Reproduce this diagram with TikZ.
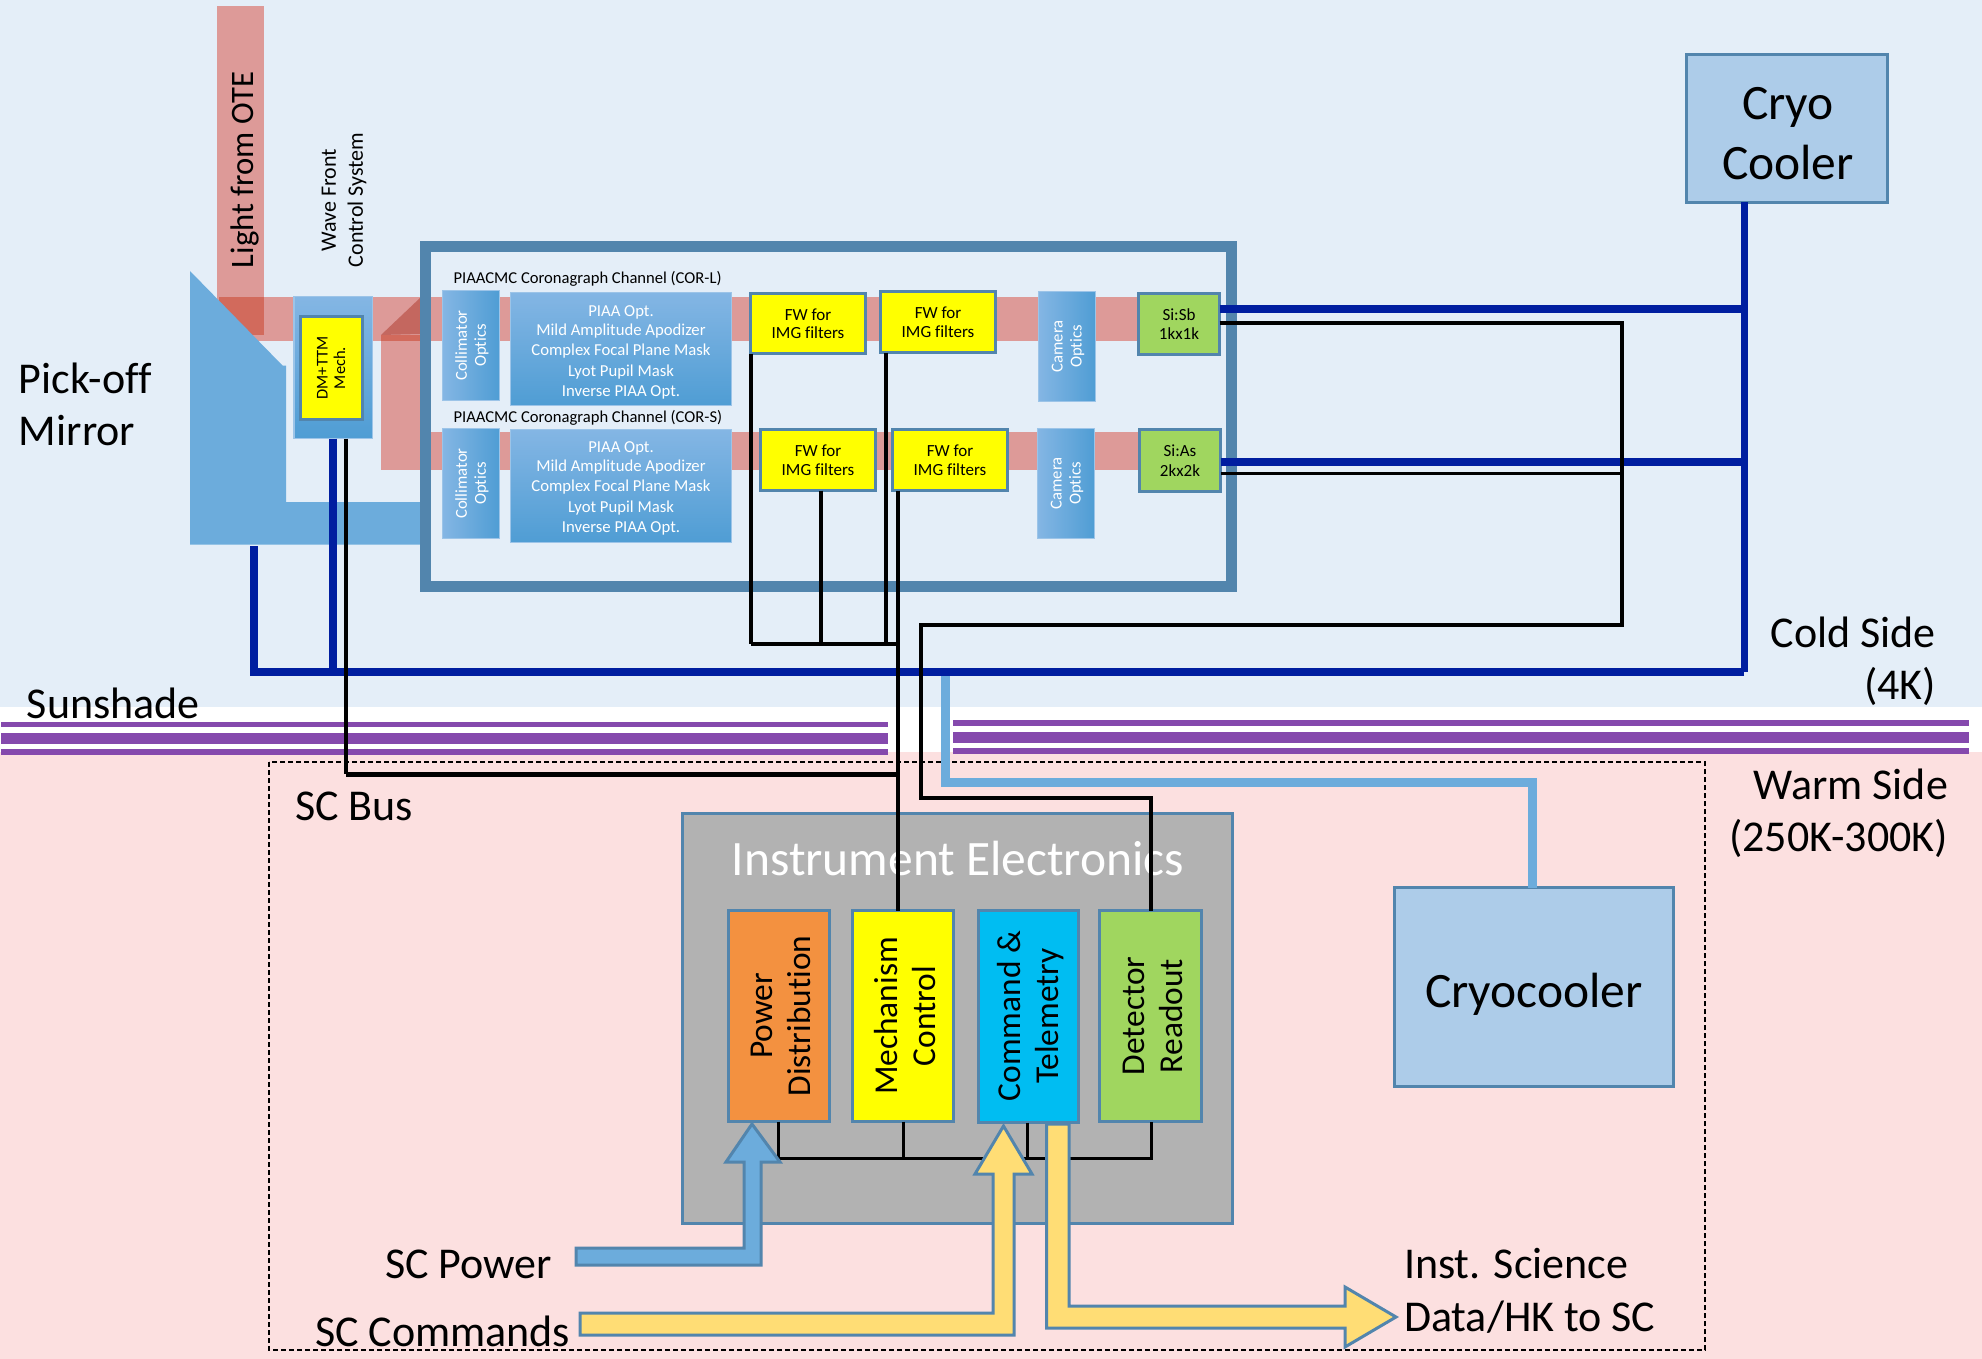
\documentclass[tikz,border=0pt]{standalone}
\usepackage{fontspec}
\setmainfont[Ligatures=NoCommon]{Carlito}
\usetikzlibrary{calc}
\definecolor{bgcold}{HTML}{E4EEF8}
\definecolor{bgwarm}{HTML}{FCE0E0}
\definecolor{beam}{HTML}{DD9A98}
\definecolor{beamdark}{HTML}{D26A5C}
\definecolor{fold}{HTML}{C4675F}
\definecolor{purp}{HTML}{8549AD}
\definecolor{edge}{HTML}{5285AD}
\definecolor{ltblue}{HTML}{6CACDC}
\definecolor{paleblue}{HTML}{ADCCE9}
\definecolor{optA}{HTML}{84B6E4}
\definecolor{optB}{HTML}{4F9DD4}
\definecolor{optedge}{HTML}{9CC4E8}
\definecolor{navy}{HTML}{001EA0}
\definecolor{ygold}{HTML}{FFDD75}
\definecolor{orng}{HTML}{F39140}
\definecolor{cyanb}{HTML}{00BDF2}
\definecolor{grn}{HTML}{A0D65F}
\definecolor{grey}{HTML}{B2B2B2}
\definecolor{ybox}{RGB}{255,255,0}
\newcommand\fsz[1]{\fontsize{#1}{#1}\selectfont}
\newcommand\bx[6]{% name x1 y1 x2 y2 style
  \pgfmathsetmacro\bxw{#4-#2-1}\pgfmathsetmacro\bxh{#5-#3-1}
  \pgfmathsetmacro\bxx{(#2+#4)/2}\pgfmathsetmacro\bxy{(#3+#5)/2}
  \node[#6,minimum width=\bxw pt,minimum height=\bxh pt] (#1) at (\bxx,\bxy) {};}
\tikzset{x=1pt,y=-1pt,
  every node/.style={inner sep=0pt,outer sep=0pt},
  framed/.style={draw=edge,line width=3pt},
  optv/.style={draw=optedge,line width=1.5pt,top color=optA,bottom color=optB},
  opth/.style={draw=optedge,line width=1.5pt,left color=optA,right color=optB},
  yel/.style={framed,fill=ybox},
  grnbox/.style={framed,fill=grn},
  palebox/.style={framed,fill=paleblue},
  optictext/.style={text=white,align=center,font=\fsz{16.7}},
  piaatext/.style={text=white,align=center,font=\fontsize{16.7}{19.3}\selectfont},
  smalltext/.style={align=center,font=\fsz{17}},
  big/.style={font=\fsz{44}},
  elec/.style={rotate=90,align=center,font=\fsz{33.4}},
  blk/.style={draw=black,line width=4pt,line join=miter},
  thn/.style={draw=black,line width=3.5pt},
  nvy/.style={draw=navy,line width=8pt,line join=miter},
  blockarrow/.style={draw=edge,line width=3pt,line join=miter}
}
\newcommand\piaalines{PIAA Opt.\\ Mild Amplitude Apodizer\\ Complex Focal Plane Mask\\[2.5pt] Lyot Pupil Mask\\[0.5pt] Inverse PIAA Opt.}
\begin{document}
\begin{tikzpicture}
\useasboundingbox (0,0) rectangle (1982,1359);
% zones
\fill[white] (0,0) rectangle (1982,1359);
\fill[bgcold] (0,0) rectangle (1982,707);
\fill[bgwarm] (0,752) rectangle (1982,1359);
% sunshade
\fill[purp] (1,722) rectangle (888,727);
\fill[purp] (1,733) rectangle (888,744);
\fill[purp] (1,749) rectangle (888,755);
\fill[purp] (953,720) rectangle (1969,726);
\fill[purp] (953,732) rectangle (1969,743);
\fill[purp] (953,748) rectangle (1969,754);
% bus frame
\draw[dashed,line width=1.3pt,dash pattern=on 5pt off 3pt] (269,762) rectangle (1705,1350);
% beams
\fill[beam] (217,6) rectangle (264,335);
\fill[beam] (219,297) rectangle (1139,341);
\fill[beam] (381,335) rectangle (420,470);
\fill[beam] (420,432) rectangle (1139,470);
\fill[beamdark] (219,297) rectangle (264,335);
\fill[beamdark] (381,335) rectangle (420,341);
\fill[fold] (381,335) -- (420,298) -- (420,334) -- cycle;
% pick-off mirror
\fill[ltblue] (190,271) -- (282.5,365.5) -- (286,365.5) -- (286,502) -- (420,502) -- (420,544.5) -- (190,544.5) -- cycle;
% channel frame
\node[draw=edge,line width=11pt,minimum width=806pt,minimum height=340pt] (chan) at (828.5,416.5) {};
% wave front control
\bx{wfc}{293.5}{296}{373}{439}{optv}
\bx{dm}{300}{316}{362.5}{420}{framed,fill=ybox}
\node[rotate=90,align=center,font=\fsz{16.5}] (dmT) at (dm) {DM+TTM\\[1pt]Mech.};
% optics
\bx{colA}{442}{290}{500}{401}{opth}
\bx{colB}{442}{428}{500}{539}{opth}
\bx{piaaA}{510}{292}{732}{406}{optv}
\bx{piaaB}{510}{429}{732}{543}{optv}
\node[rotate=90,optictext] (colAT) at ($(colA)+(1,0)$) {Collimator\\[2.3pt]Optics};
\node[rotate=90,optictext] (colBT) at ($(colB)+(1,0)$) {Collimator\\[2.3pt]Optics};
\node[piaatext] (piaaAT) at ($(piaaA)+(0,3.5)$) {\piaalines};
\node[piaatext] (piaaBT) at ($(piaaB)+(0,2.5)$) {\piaalines};
\node[anchor=west,font=\fsz{16.6}] (chL) at (453.5,279) {PIAACMC Coronagraph Channel (COR-L)};
\node[anchor=west,font=\fsz{16.6}] (chS) at (453.5,418) {PIAACMC Coronagraph Channel (COR-S)};
% filters
\bx{fwa}{750}{293}{866}{354}{yel}
\bx{fwb}{880}{291}{996}{353}{yel}
\bx{fwc}{760}{429}{876}{491}{yel}
\bx{fwd}{892}{429}{1008}{491}{yel}
\node[smalltext] (fwaT) at (fwa) {FW for\\[1.5pt]IMG filters};
\node[smalltext] (fwbT) at (fwb) {FW for\\[1.5pt]IMG filters};
\node[smalltext] (fwcT) at (fwc) {FW for\\[1.5pt]IMG filters};
\node[smalltext] (fwdT) at (fwd) {FW for\\[1.5pt]IMG filters};
% cameras
\bx{camA}{1038}{291}{1096}{402}{opth}
\bx{camB}{1037}{428}{1095}{539}{opth}
\node[rotate=90,optictext] (camAT) at ($(camA)+(1,0)$) {Camera\\[2.3pt]Optics};
\node[rotate=90,optictext] (camBT) at ($(camB)+(1,0)$) {Camera\\[2.3pt]Optics};
% detectors
\bx{sisb}{1138}{293}{1220}{355}{grnbox}
\bx{sias}{1139}{429}{1221}{492}{grnbox}
\node[smalltext] (sisbT) at (sisb) {Si:Sb\\[2.5pt]1kx1k};
\node[smalltext] (siasT) at (sias) {Si:As\\[2.5pt]2kx2k};
% coolers
\bx{cryo}{1686}{54}{1888}{203}{palebox}
\node[align=center,font=\fsz{49.5}] (cryoT) at ($(cryo)+(1,5.5)$) {Cryo\\[10.5pt]Cooler};
\bx{cooler}{1394}{887}{1674}{1087}{palebox}
\node[font=\fsz{49.5}] (coolerT) at ($(cooler)+(0,7)$) {Cryocooler};
% electronics
\bx{ie}{682}{813}{1233}{1224}{framed,fill=grey}
\node[text=white,font=\fsz{49.5}] (ieT) at (958,858) {Instrument Electronics};
\bx{pwr}{728}{910}{830}{1122}{framed,fill=orng}
\bx{mech}{852}{910}{953.5}{1122}{framed,fill=ybox}
\bx{cmd}{978}{910}{1079}{1123}{framed,fill=cyanb}
\bx{det}{1099}{910}{1201.5}{1122}{framed,fill=grn}
\node[elec] (pwrT) at (781,1016) {Power\\[4.5pt]Distribution};
\node[elec] (mechT) at (905,1016) {Mechanism\\[4.5pt]Control};
\node[elec] (cmdT) at (1031,1016) {Command \&\\[4.5pt]Telemetry};
\node[elec] (detT) at (1153,1016) {Detector\\[4.5pt]Readout};
% junctions
\coordinate (jA) at (751,644);
\coordinate (jB) at (821,644);
\coordinate (jC) at (886,644);
\coordinate (jD) at (898,644);
\coordinate (jE) at (900,644);
\coordinate (jF) at (346,774);
\coordinate (jG) at (1622,323);
\coordinate (jH) at (1622,624.5);
\coordinate (jI) at (921,624.5);
\coordinate (jJ) at (921,798);
\coordinate (jK) at (1151,798);
\coordinate (jL) at (1622,473);
\coordinate (jM) at (1744,309);
\coordinate (jN) at (1744,462);
\coordinate (jO) at (1744,672);
\coordinate (jP) at (250,672);
\coordinate (jQ) at (254,546);
\coordinate (jQb) at (254,672);
\coordinate (jR) at (333,672);
\coordinate (jS) at (945,676);
\coordinate (jT) at (945,782);
\coordinate (jU) at (1532,782);
\coordinate (busA) at (778.5,1158);
\coordinate (busB) at (903,1158);
\coordinate (busC) at (1027.5,1158);
\coordinate (busD) at (1151,1158);
% power / data wires
\draw[nvy] (sisb.east |- jM) -- (jM);
\draw[nvy] (sias.east |- jN) -- (jN);
\draw[nvy,line width=7pt] (cryo.south -| jO) -- (jO);
\draw[nvy] (jO) -- (jP);
\draw[nvy] (jQ) -- (jQb);
\draw[nvy] (wfc.south -| jR) -- (jR);
\draw[draw=ltblue,line width=9pt,line join=miter] (jS) -- (jT) -- (jU) -- (cooler.north -| jU);
\draw[thn] (fwa.south -| jA) -- (jA);
\draw[thn] (fwc.south -| jB) -- (jB);
\draw[thn] (fwb.south -| jC) -- (jC);
\draw[blk] (jA) -- (jE);
\draw[thn] (fwd.south -| jD) -- (mech.north -| jD);
\draw[thn] (wfc.south -| jF) -- (jF);
\draw[blk,line width=5pt] (jF) -- (jF -| jD);
\draw[blk] (sisb.east |- jG) -- (jG) -- (jH) -- (jI) -- (jJ) -- (jK) -- (det.north -| jK);
\draw[thn,line width=3pt] (sias.east |- jL) -- (jL);
% internal bus
\draw[thn,line width=3pt,line join=miter] (pwr.south -| busA) -- (busA) -- (busD) -- (det.south -| busD);
\draw[thn,line width=3pt] (mech.south -| busB) -- (busB);
\draw[thn,line width=3pt] (cmd.south -| busC) -- (busC);
% block arrows
\draw[blockarrow,fill=ltblue] (576,1248) -- (744,1248) -- (744,1162) -- (726,1162) -- (752,1124) -- (780,1162) -- (761,1162) -- (761,1265) -- (576,1265) -- cycle;
\draw[blockarrow,fill=ygold] (580,1313) -- (993,1313) -- (993,1174) -- (975,1174) -- (1003.5,1126) -- (1032,1174) -- (1014,1174) -- (1014,1335) -- (580,1335) -- cycle;
\draw[blockarrow,fill=ygold] (1046.5,1124) -- (1069,1124) -- (1069,1306) -- (1345,1306) -- (1345,1287) -- (1396,1317) -- (1345,1347) -- (1345,1328) -- (1046.5,1328) -- cycle;
% labels
\node[rotate=90,font=\fsz{32.7}] (otE) at (245,170) {Light from OTE};
\node[rotate=90,align=center,font=\fsz{22}] (wfT) at (344,200) {Wave Front\\[5pt]Control System};
\node[anchor=west,align=left,big] (pick) at (19,404) {Pick-off\\[8pt]Mirror};
\node[anchor=east,align=right,big] (cold) at (1936,661) {Cold Side\\[8pt](4K)};
\node[anchor=east,align=right,big] (warm) at (1948,813) {Warm Side\\[8pt](250K-300K)};
\node[anchor=west,big] (sun) at (27,703) {Sunshade};
\node[anchor=west,big] (bus) at (295,806) {SC Bus};
\node[anchor=west,big] (scp) at (385,1264) {SC Power};
\node[anchor=west,big] (scc) at (315,1331) {SC Commands};
\node[anchor=west,align=left,big] (inst) at (1404,1291) {Inst. Science\\[9pt]Data/HK to SC};
\end{tikzpicture}
\end{document}
